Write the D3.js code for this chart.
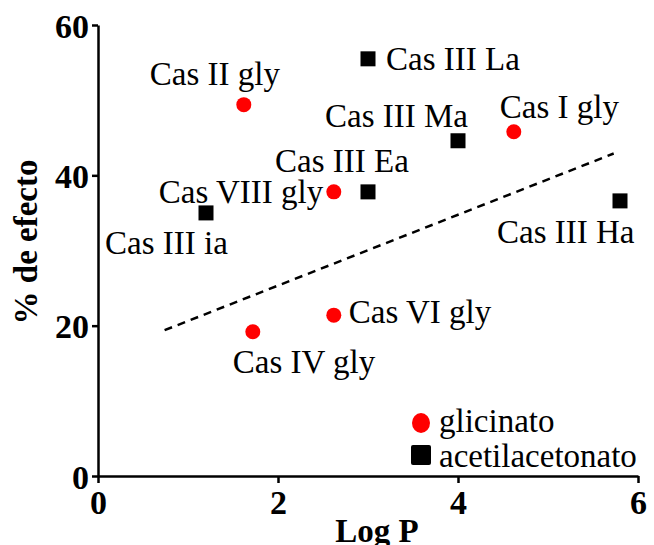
<!DOCTYPE html>
<html><head><meta charset="utf-8">
<script src="https://cdn.jsdelivr.net/npm/d3@7"></script>
<style>
html,body{margin:0;padding:0;background:#fff;}
svg{display:block;font-family:"Liberation Serif","Times New Roman",serif;}
</style></head>
<body><svg id="c" width="654" height="545"></svg>
<script>
// Data
const glyNames = ["Cas II gly","Cas I gly","Cas VIII gly","Cas VI gly","Cas IV gly"];
const glyX = [1.62, 4.62, 2.62, 2.62, 1.72];
const glyY = [49.4, 45.8, 37.8, 21.4, 19.2];
const acacNames = ["Cas III La","Cas III Ma","Cas III Ea","Cas III ia","Cas III Ha"];
const acacX = [3.0, 4.0, 3.0, 1.2, 5.8];
const acacY = [55.5, 44.6, 37.8, 35.0, 36.6];
const trendX = [0.74, 5.73];
const trendY = [19.4, 42.9];
const xTicks = [0, 2, 4, 6];
const yTicks = [0, 20, 40, 60];
const legendLabels = ["glicinato", "acetilacetonato"];

// Layout: label offsets (px) relative to each point
const glyLabelOff = [[-94,-20],[-14,-14],[-175,11],[15,8],[-20,41]];
const acacLabelOff = [[18,11],[-133,-14],[-93,-20],[-101,41],[-123,42]];

const svg = d3.select("#c");
const x = d3.scaleLinear().domain([0,6]).range([98,638]);
const y = d3.scaleLinear().domain([0,60]).range([476,25]);

// axes
const xa = svg.append("g").attr("transform","translate(0,476)")
  .call(d3.axisBottom(x).tickValues(xTicks).tickFormat(d3.format("d")).tickSize(7).tickSizeOuter(0).tickPadding(5));
const ya = svg.append("g").attr("transform","translate(98,0)")
  .call(d3.axisLeft(y).tickValues(yTicks).tickFormat(d3.format("d")).tickSize(6).tickSizeOuter(0).tickPadding(3));
[xa,ya].forEach(a=>{
  a.select(".domain").attr("stroke","#000").attr("stroke-width",2.5);
  a.selectAll(".tick line").attr("stroke","#000").attr("stroke-width",2.5);
  a.selectAll(".tick text").attr("fill","#000").style("font-family",'"Liberation Serif","Times New Roman",serif')
    .style("font-size","34px").style("font-weight","bold");
});
xa.selectAll(".tick text").attr("dy","0.75em");
ya.selectAll(".tick text").attr("dy","0.36em");

// axis titles
svg.append("text").attr("x",377).attr("y",542).attr("text-anchor","middle")
  .style("font-size","33px").style("font-weight","bold").text("Log P");
svg.append("text").attr("transform","translate(37,242) rotate(-90)").attr("text-anchor","middle")
  .style("font-size","33px").style("font-weight","bold").text("% de efecto");

// trend line
svg.append("line").attr("x1",x(trendX[0])).attr("y1",y(trendY[0]))
  .attr("x2",x(trendX[1])).attr("y2",y(trendY[1]))
  .attr("stroke","#000").attr("stroke-width",2.5).attr("stroke-dasharray","8,6");

// points
const gly = glyX.map((v,i)=>({x:v,y:glyY[i],n:glyNames[i],o:glyLabelOff[i]}));
const acac = acacX.map((v,i)=>({x:v,y:acacY[i],n:acacNames[i],o:acacLabelOff[i]}));
svg.selectAll("circle.g").data(gly).enter().append("circle")
  .attr("cx",d=>x(d.x)).attr("cy",d=>y(d.y)).attr("r",7.5).attr("fill","#ff0000");
svg.selectAll("rect.a").data(acac).enter().append("rect")
  .attr("x",d=>x(d.x)-7.5).attr("y",d=>y(d.y)-7.5).attr("width",15).attr("height",15).attr("fill","#000");

// labels
svg.selectAll("text.l").data(gly.concat(acac)).enter().append("text")
  .attr("x",d=>x(d.x)+d.o[0]).attr("y",d=>y(d.y)+d.o[1])
  .style("font-size","33px").attr("fill","#000").text(d=>d.n);

// legend
svg.append("ellipse").attr("cx",421).attr("cy",423).attr("rx",9).attr("ry",10).attr("fill","#ff0000");
svg.append("rect").attr("x",411).attr("y",445).attr("width",20).attr("height",20).attr("rx",2).attr("fill","#000");
svg.selectAll("text.lg").data(legendLabels).enter().append("text")
  .attr("x",439).attr("y",(d,i)=>432+i*35).style("font-size","33px").text(d=>d);
</script></body></html>
